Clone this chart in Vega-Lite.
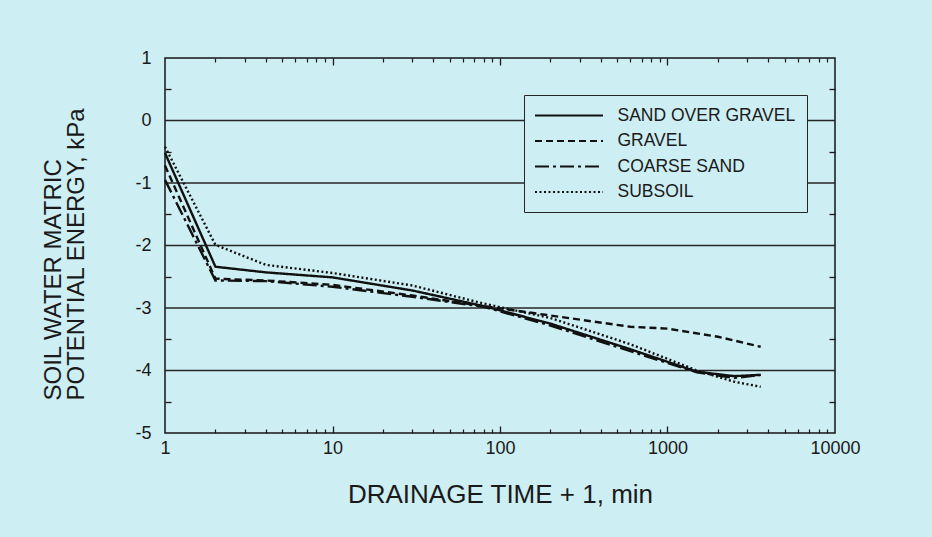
{
  "$schema": "https://vega.github.io/schema/vega-lite/v6.json",
  "width": 670,
  "height": 375,
  "autosize": {"type": "none"},
  "padding": {"left": 165, "top": 58, "right": 97, "bottom": 104},
  "background": "#cdeef2",
  "config": {
    "view": {"stroke": "#151515", "strokeWidth": 1.5},
    "font": "Liberation Sans",
    "axis": {
      "labelColor": "#1a1a1a",
      "titleColor": "#1a1a1a",
      "tickColor": "#1a1a1a",
      "grid": false,
      "domain": false,
      "labelFont": "Liberation Sans",
      "titleFont": "Liberation Sans",
      "titleFontWeight": "normal"
    },
    "legend": {"labelFont": "Liberation Sans"}
  },
  "datasets": {
    "grid": [{"g": 0}, {"g": -1}, {"g": -2}, {"g": -3}, {"g": -4}],
    "curves": [
      {"series": "SAND OVER GRAVEL", "t": 1, "psi": -0.52},
      {"series": "SAND OVER GRAVEL", "t": 2, "psi": -2.34},
      {"series": "SAND OVER GRAVEL", "t": 4, "psi": -2.43},
      {"series": "SAND OVER GRAVEL", "t": 10, "psi": -2.51},
      {"series": "SAND OVER GRAVEL", "t": 30, "psi": -2.72},
      {"series": "SAND OVER GRAVEL", "t": 80, "psi": -2.97},
      {"series": "SAND OVER GRAVEL", "t": 200, "psi": -3.25},
      {"series": "SAND OVER GRAVEL", "t": 600, "psi": -3.66},
      {"series": "SAND OVER GRAVEL", "t": 1500, "psi": -4.02},
      {"series": "SAND OVER GRAVEL", "t": 2500, "psi": -4.09},
      {"series": "SAND OVER GRAVEL", "t": 3600, "psi": -4.07},
      {"series": "GRAVEL", "t": 1, "psi": -0.72},
      {"series": "GRAVEL", "t": 2, "psi": -2.53},
      {"series": "GRAVEL", "t": 4, "psi": -2.56},
      {"series": "GRAVEL", "t": 10, "psi": -2.63},
      {"series": "GRAVEL", "t": 30, "psi": -2.8},
      {"series": "GRAVEL", "t": 80, "psi": -2.97},
      {"series": "GRAVEL", "t": 200, "psi": -3.12},
      {"series": "GRAVEL", "t": 600, "psi": -3.3},
      {"series": "GRAVEL", "t": 1000, "psi": -3.33},
      {"series": "GRAVEL", "t": 2000, "psi": -3.46},
      {"series": "GRAVEL", "t": 3600, "psi": -3.62},
      {"series": "COARSE SAND", "t": 1, "psi": -0.95},
      {"series": "COARSE SAND", "t": 2, "psi": -2.56},
      {"series": "COARSE SAND", "t": 4, "psi": -2.57},
      {"series": "COARSE SAND", "t": 10, "psi": -2.66},
      {"series": "COARSE SAND", "t": 30, "psi": -2.82},
      {"series": "COARSE SAND", "t": 80, "psi": -2.98},
      {"series": "COARSE SAND", "t": 200, "psi": -3.28},
      {"series": "COARSE SAND", "t": 600, "psi": -3.69},
      {"series": "COARSE SAND", "t": 1500, "psi": -4.03},
      {"series": "COARSE SAND", "t": 2500, "psi": -4.12},
      {"series": "COARSE SAND", "t": 3600, "psi": -4.07},
      {"series": "SUBSOIL", "t": 1, "psi": -0.42},
      {"series": "SUBSOIL", "t": 2, "psi": -1.99},
      {"series": "SUBSOIL", "t": 4, "psi": -2.31},
      {"series": "SUBSOIL", "t": 10, "psi": -2.44},
      {"series": "SUBSOIL", "t": 30, "psi": -2.64},
      {"series": "SUBSOIL", "t": 80, "psi": -2.93},
      {"series": "SUBSOIL", "t": 200, "psi": -3.16},
      {"series": "SUBSOIL", "t": 600, "psi": -3.58},
      {"series": "SUBSOIL", "t": 1500, "psi": -4.0},
      {"series": "SUBSOIL", "t": 2500, "psi": -4.18},
      {"series": "SUBSOIL", "t": 3600, "psi": -4.26}
    ]
  },
  "resolve": {"axis": {"x": "independent", "y": "independent"}},
  "layer": [
    {
      "data": {"name": "grid"},
      "mark": {"type": "rule", "color": "#262626", "strokeWidth": 1.5},
      "encoding": {
        "y": {
          "field": "g",
          "type": "quantitative",
          "scale": {"domain": [-5, 1], "nice": false, "zero": false},
          "axis": {
            "orient": "left",
            "values": [-5, -4, -3, -2, -1, 0, 1],
            "labelExpr": "'' + datum.value",
            "ticks": false,
            "labelPadding": 14,
            "labelFontSize": 18,
            "labelFlush": false,
            "title": ["SOIL WATER MATRIC", "POTENTIAL ENERGY, kPa"],
            "titleFontSize": 24,
            "titleLineHeight": 23,
            "titleAngle": 270,
            "titleAlign": "left",
            "titleBaseline": "alphabetic",
            "titleX": -105,
            "titleY": 342
          }
        }
      }
    },
    {
      "data": {"name": "curves"},
      "mark": {"type": "line", "color": "#111111", "strokeWidth": 2.4},
      "encoding": {
        "x": {
          "field": "t",
          "type": "quantitative",
          "scale": {"type": "log", "domain": [1, 10000], "nice": false},
          "axis": {
            "orient": "bottom",
            "values": [1, 10, 100, 1000, 10000],
            "format": "d",
            "ticks": false,
            "labelPadding": 6,
            "labelFontSize": 18,
            "labelFlush": false,
            "title": "DRAINAGE TIME + 1, min",
            "titleFontSize": 26,
            "titleBaseline": "alphabetic",
            "titleY": 69
          }
        },
        "y": {
          "field": "psi",
          "type": "quantitative",
          "scale": {"domain": [-5, 1], "nice": false, "zero": false},
          "axis": null
        },
        "strokeDash": {
          "field": "series",
          "type": "nominal",
          "scale": {
            "domain": ["SAND OVER GRAVEL", "GRAVEL", "COARSE SAND", "SUBSOIL"],
            "range": [[1, 0], [7, 4], [14, 4, 3, 4], [2, 2.5]]
          },
          "legend": {
            "title": null,
            "orient": "none",
            "legendX": 359,
            "legendY": 37,
            "symbolType": "M-4,0H4",
            "symbolSize": 289,
            "symbolOffset": 24.5,
            "symbolStrokeWidth": 2,
            "symbolStrokeColor": "#111111",
            "labelFontSize": 17.5,
            "labelOffset": 39,
            "labelColor": "#1a1a1a",
            "labelLimit": 300,
            "rowPadding": 7.5,
            "padding": 11,
            "fillColor": "#cdeef2",
            "strokeColor": "#262626"
          }
        }
      }
    },
    {
      "data": {"name": "curves"},
      "mark": {"type": "point", "opacity": 0},
      "encoding": {
        "x": {
          "field": "t", "type": "quantitative",
          "scale": {"type": "log", "domain": [1, 10000], "nice": false},
          "axis": {"orient": "bottom", "values": [2,3,4,5,6,7,8,9,20,30,40,50,60,70,80,90,200,300,400,500,600,700,800,900,2000,3000,4000,5000,6000,7000,8000,9000], "labels": false, "tickSize": -4, "tickWidth": 1.2, "title": null}
        },
        "y": {"field": "psi", "type": "quantitative", "scale": {"domain": [-5, 1], "nice": false, "zero": false}, "axis": null}
      }
    },
    {
      "data": {"name": "curves"},
      "mark": {"type": "point", "opacity": 0},
      "encoding": {
        "x": {
          "field": "t", "type": "quantitative",
          "scale": {"type": "log", "domain": [1, 10000], "nice": false},
          "axis": {"orient": "bottom", "values": [10, 100, 1000], "labels": false, "tickSize": -7, "tickWidth": 1.3, "title": null}
        },
        "y": {"field": "psi", "type": "quantitative", "scale": {"domain": [-5, 1], "nice": false, "zero": false}, "axis": null}
      }
    },
    {
      "data": {"name": "curves"},
      "mark": {"type": "point", "opacity": 0},
      "encoding": {
        "x": {
          "field": "t", "type": "quantitative",
          "scale": {"type": "log", "domain": [1, 10000], "nice": false},
          "axis": {"orient": "top", "values": [2,3,4,5,6,7,8,9,20,30,40,50,60,70,80,90,200,300,400,500,600,700,800,900,2000,3000,4000,5000,6000,7000,8000,9000], "labels": false, "tickSize": -4, "tickWidth": 1.2, "title": null}
        },
        "y": {"field": "psi", "type": "quantitative", "scale": {"domain": [-5, 1], "nice": false, "zero": false}, "axis": null}
      }
    },
    {
      "data": {"name": "curves"},
      "mark": {"type": "point", "opacity": 0},
      "encoding": {
        "x": {
          "field": "t", "type": "quantitative",
          "scale": {"type": "log", "domain": [1, 10000], "nice": false},
          "axis": {"orient": "top", "values": [10, 100, 1000], "labels": false, "tickSize": -7, "tickWidth": 1.3, "title": null}
        },
        "y": {"field": "psi", "type": "quantitative", "scale": {"domain": [-5, 1], "nice": false, "zero": false}, "axis": null}
      }
    },
    {
      "data": {"name": "curves"},
      "mark": {"type": "point", "opacity": 0},
      "encoding": {
        "x": {"field": "t", "type": "quantitative", "scale": {"type": "log", "domain": [1, 10000], "nice": false}, "axis": null},
        "y": {
          "field": "psi", "type": "quantitative",
          "scale": {"domain": [-5, 1], "nice": false, "zero": false},
          "axis": {"orient": "left", "values": [-4.5, -3.5, -2.5, -1.5, -0.5, 0.5], "labels": false, "tickSize": -6, "tickWidth": 1.3, "title": null}
        }
      }
    },
    {
      "data": {"name": "curves"},
      "mark": {"type": "point", "opacity": 0},
      "encoding": {
        "x": {"field": "t", "type": "quantitative", "scale": {"type": "log", "domain": [1, 10000], "nice": false}, "axis": null},
        "y": {
          "field": "psi", "type": "quantitative",
          "scale": {"domain": [-5, 1], "nice": false, "zero": false},
          "axis": {"orient": "right", "values": [-4.5, -3.5, -2.5, -1.5, -0.5, 0.5], "labels": false, "tickSize": -6, "tickWidth": 1.3, "title": null}
        }
      }
    }
  ]
}
